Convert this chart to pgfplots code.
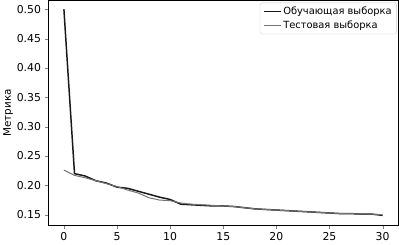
\documentclass[border=0pt]{standalone}
\usepackage{pgfplots}
\pgfplotsset{compat=1.18}
\usepackage{fontspec}
\setmainfont{DejaVu Sans}
\begin{document}
\begin{tikzpicture}[x=1pt,y=1pt]
\begin{axis}[
  scale only axis,
  width=355pt, height=228pt,
  xmin=-1.5, xmax=31.5,
  ymin=0.1315, ymax=0.515,
  xtick={0,5,10,15,20,25,30},
  ytick={0.15,0.20,0.25,0.30,0.35,0.40,0.45,0.50},
  yticklabel style={/pgf/number format/.cd,fixed,fixed zerofill,precision=2},
  /pgf/number format/assume math mode=true,
  ticklabel style={font=\fontsize{11}{13}\selectfont},
  tick align=outside,
  tick pos=left,
  major tick length=3.5pt,
  axis line style={line width=0.9pt},
  ylabel={Метрика},
  ylabel style={font=\fontsize{10.5}{12}\selectfont,yshift=-3pt},
  legend style={at={(0.995,0.99)},anchor=north east,font=\fontsize{10}{12}\selectfont,draw=black!20,rounded corners=2pt,row sep=1pt},
  legend cell align=left,
]
\addplot[color=black!90,line width=1.5pt] coordinates {
(0,0.500)(1,0.220)(2,0.216)(3,0.208)(4,0.204)(5,0.197)(6,0.195)(7,0.190)(8,0.185)(9,0.180)(10,0.176)(11,0.168)(12,0.167)(13,0.166)(14,0.165)(15,0.165)(16,0.164)(17,0.162)(18,0.160)(19,0.159)(20,0.158)(21,0.157)(22,0.156)(23,0.155)(24,0.154)(25,0.153)(26,0.152)(27,0.152)(28,0.151)(29,0.151)(30,0.149)};
\addlegendentry{Обучающая выборка}
\addplot[color=black!55,line width=1pt] coordinates {
(0,0.226)(1,0.217)(2,0.213)(3,0.208)(4,0.203)(5,0.198)(6,0.192)(7,0.187)(8,0.179)(9,0.175)(10,0.174)(11,0.170)(12,0.168)(13,0.167)(14,0.166)(15,0.165)(16,0.164)(17,0.162)(18,0.160)(19,0.159)(20,0.158)(21,0.157)(22,0.156)(23,0.155)(24,0.154)(25,0.153)(26,0.152)(27,0.152)(28,0.151)(29,0.151)(30,0.150)};
\addlegendentry{Тестовая выборка}
\end{axis}
\end{tikzpicture}
\end{document}
